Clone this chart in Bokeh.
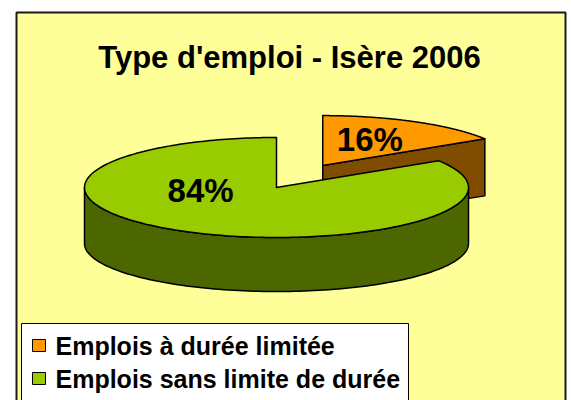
import numpy as np
from bokeh.plotting import figure
from bokeh.models import Range1d, ColumnDataSource
from bokeh.core.properties import value
from bokeh.embed import file_html
from bokeh.resources import INLINE

# ---------------- data ----------------
title_text = "Type d'emploi - Isère 2006"
categories = ["Emplois à durée limitée", "Emplois sans limite de durée"]
shares = [16, 84]           # percent
explode = [0.5, 0.0]        # fraction of radius

# ---------------- style ----------------
top_colors = ["#FF9900", "#99CC00"]
side_colors = ["#7F4C00", "#4C6600"]
label_anchor = [(25.0, 0.58), (261.0, 0.40)]   # (angle deg clockwise from 12h, radius fraction)
FONT = "Liberation Sans"
BG = "#FFFF99"

# pie geometry (screen pixels, y downward)
CX, CY = 276.0, 187.0
A, B = 192.0, 50.0
DEPTH, B2 = 56.0, 48.0

W, H = 571, 400
p = figure(width=W, height=H, x_range=Range1d(0, W), y_range=Range1d(H, 0),
           output_backend="svg", toolbar_location=None, min_border=0,
           x_axis_type=None, y_axis_type=None)
p.grid.visible = False
p.outline_line_color = None
p.background_fill_color = "white"
p.border_fill_color = "white"

# chart area frame
p.quad(left=16, right=565, top=12, bottom=430, fill_color=BG,
       line_color="#1a1a1a", line_width=2)

# title
p.text(x=[289], y=[57], text=[title_text], text_font=value(FONT),
       text_font_style="bold", text_font_size="31px", text_align="center",
       text_baseline="alphabetic", text_color="black")


def top_pt(cx, cy, th):
    return cx + A * np.sin(th), cy - B * np.cos(th)


def bot_pt(cx, cy, th):
    return cx + A * np.sin(th), cy + DEPTH - B2 * np.cos(th)


total = float(sum(shares))
bounds = np.concatenate([[0.0], np.cumsum(shares) / total * 2 * np.pi])

slices = []
for i, v in enumerate(shares):
    a0, a1 = bounds[i], bounds[i + 1]
    mid = 0.5 * (a0 + a1)
    cx = CX + explode[i] * A * np.sin(mid)
    cy = CY - explode[i] * B * np.cos(mid)
    slices.append((i, a0, a1, cx, cy))

# draw back slices first
slices.sort(key=lambda s: s[4])

for i, a0, a1, cx, cy in slices:
    xs, ys, cols = [], [], []
    # outer wall (visible part: 90..270 deg)
    lo, hi = max(a0, np.pi / 2), min(a1, 3 * np.pi / 2)
    if hi > lo:
        th = np.linspace(lo, hi, 120)
        tx, ty = top_pt(cx, cy, th)
        bx, by = bot_pt(cx, cy, th[::-1])
        xs.append(list(np.concatenate([tx, bx])))
        ys.append(list(np.concatenate([ty, by])))
        cols.append(side_colors[i])
    # radial faces
    for ang, visible in ((a1, 0 < a1 < np.pi - 1e-9), (a0, np.pi + 1e-9 < a0 < 2 * np.pi)):
        if visible:
            tx, ty = top_pt(cx, cy, ang)
            bx, by = bot_pt(cx, cy, ang)
            xs.append([cx, tx, bx, cx])
            ys.append([cy, ty, by, cy + DEPTH])
            cols.append(side_colors[i])
    # top face
    th = np.linspace(a0, a1, 240)
    tx, ty = top_pt(cx, cy, th)
    xs.append([cx] + list(tx) + [cx])
    ys.append([cy] + list(ty) + [cy])
    cols.append(top_colors[i])
    src = ColumnDataSource(dict(xs=xs, ys=ys, c=cols))
    p.patches("xs", "ys", source=src, fill_color="c", line_color="black",
              line_width=1.5, line_join="round")

# percentage labels
lx, ly, lt = [], [], []
for i, v in enumerate(shares):
    a0, a1 = bounds[i], bounds[i + 1]
    mid = 0.5 * (a0 + a1)
    cx = CX + explode[i] * A * np.sin(mid)
    cy = CY - explode[i] * B * np.cos(mid)
    ang, r = label_anchor[i]
    t = np.deg2rad(ang)
    lx.append(cx + r * A * np.sin(t))
    ly.append(cy - r * B * np.cos(t))
    lt.append(f"{round(v / total * 100)}%")
p.text(x=lx, y=ly, text=lt, text_font=value(FONT), text_font_style="bold",
       text_font_size="33px", text_align="center", text_baseline="middle",
       text_color="black")

# legend
p.quad(left=21, right=408, top=323, bottom=440, fill_color="white",
       line_color="black", line_width=1)
row0, row_step = 345, 33
rows = [row0 + k * row_step for k in range(len(categories))]
p.rect(x=[38.5] * len(categories), y=rows, width=13, height=12,
       fill_color=top_colors, line_color="black", line_width=1)
p.text(x=[55] * len(categories), y=rows, text=categories, text_font=value(FONT),
       text_font_style="bold", text_font_size="25px", text_align="left",
       text_baseline="middle", text_color="black")

open("out.html", "w").write(file_html(p, INLINE))
